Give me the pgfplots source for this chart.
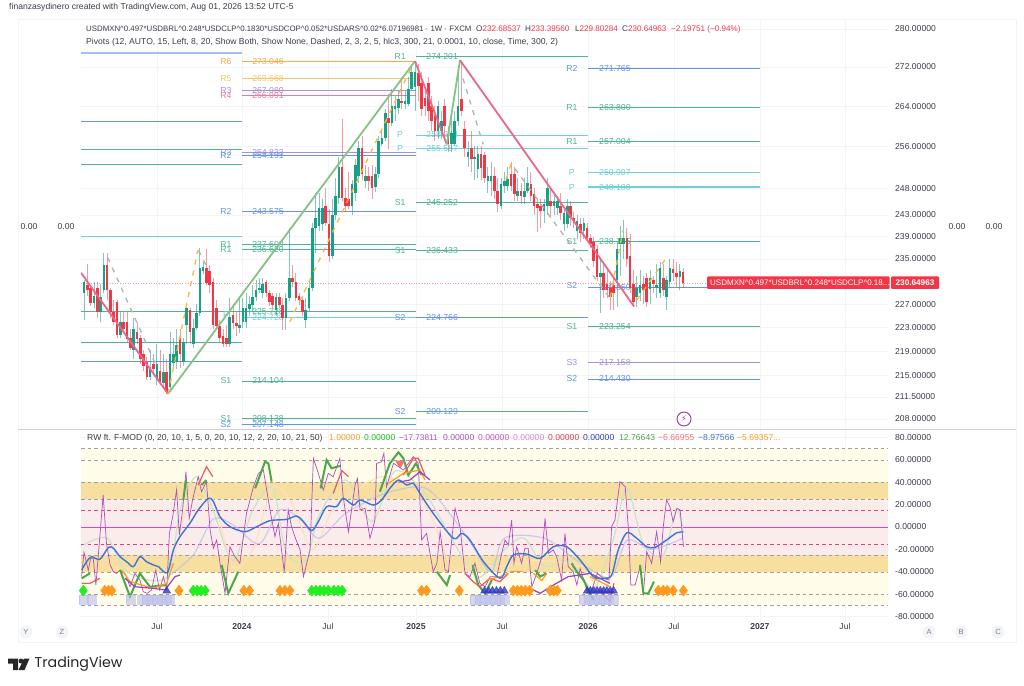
\documentclass[border=0pt]{standalone}
\usepackage{fontspec}
\usepackage{pgfplots}
\usepackage{pgfplotstable}
\pgfplotsset{compat=1.18}
\setmainfont{Liberation Sans}
\newfontfamily\tvfont{Poppins}
\newfontfamily\symfont{DejaVu Sans}

\definecolor{up}{HTML}{16A085}
\definecolor{dn}{HTML}{F23645}
\definecolor{ink}{HTML}{3A3E4A}
\definecolor{gridc}{HTML}{F2F4F8}
\definecolor{ppOr}{HTML}{FFA94D}
\definecolor{ppYe}{HTML}{FBC65F}
\definecolor{ppPu}{HTML}{A98FD6}
\definecolor{ppPk}{HTML}{EC7A9B}
\definecolor{ppBl}{HTML}{6394E8}
\definecolor{ppGr}{HTML}{4FB396}
\definecolor{ppCy}{HTML}{6FD0DC}
\definecolor{trG}{HTML}{86C283}
\definecolor{trR}{HTML}{E8688A}
\definecolor{osc}{HTML}{B04DBE}
\definecolor{mid}{HTML}{D14BC8}
\definecolor{blu}{HTML}{3F73D8}
\definecolor{grn}{HTML}{4CA64C}
\definecolor{bandA}{HTML}{FFFDE9}
\definecolor{bandB}{HTML}{F7DFA0}
\definecolor{bandC}{HTML}{F9ECEA}
\definecolor{dia}{HTML}{FF9A1F}
\definecolor{lim}{HTML}{22EE22}
\definecolor{tri}{HTML}{3038C8}
\definecolor{sq}{HTML}{B9BCEB}
\definecolor{dashY}{HTML}{FDB73E}

% week index, open, high, low, close
\pgfplotstableread{
x o h l c
1 228.9 231.2 224.3 230.8
2 230.3 234.1 228.5 229.4
3 229.8 230.3 226.7 227.2
4 227.2 230.8 226.3 228.5
5 229.8 230.8 224.6 225.7
6 225.7 230.6 224.0 228.2
7 229.4 236.0 228.9 233.8
8 233.8 236.0 227.7 229.4
9 229.4 229.8 224.6 225.7
10 225.7 227.7 223.5 224.0
11 227.3 227.7 221.3 221.8
12 221.8 225.7 221.3 224.0
13 224.0 225.7 222.2 222.7
14 224.0 225.7 220.5 221.0
15 221.3 222.7 219.3 219.6
16 219.3 224.6 217.7 222.7
17 222.2 224.0 220.2 221.0
18 221.3 221.8 216.9 217.7
19 218.5 219.3 215.7 216.5
20 217.2 218.0 214.3 214.8
21 214.8 219.3 214.3 216.3
22 216.9 218.5 215.2 216.0
23 214.3 220.2 213.5 216.9
24 215.7 219.3 213.5 214.0
25 213.8 218.5 213.0 215.5
26 215.5 217.7 212.0 212.3
27 213.2 222.2 212.3 218.5
28 217.0 221.3 216.0 218.5
29 217.2 222.7 216.0 220.0
30 221.3 222.7 216.3 218.5
31 217.2 221.3 216.5 220.5
32 223.5 226.8 220.2 226.3
33 226.0 226.3 220.2 222.2
34 220.2 224.5 219.5 223.0
35 223.0 227.0 222.5 225.5
36 225.4 237.0 225.0 233.4
37 232.9 234.5 232.3 233.6
38 233.4 236.7 230.3 230.7
39 232.9 233.8 228.9 230.3
40 230.8 231.5 222.7 223.5
41 226.3 227.7 222.7 223.2
42 223.2 224.3 220.6 221.3
43 221.6 222.7 219.8 220.2
44 221.3 223.5 219.8 220.2
45 220.2 228.0 219.8 224.8
46 225.1 227.0 222.7 223.8
47 223.8 225.7 221.5 223.2
48 222.9 228.0 222.0 223.4
49 224.0 228.0 223.0 226.3
50 224.0 229.0 223.0 226.3
51 226.2 228.5 225.0 227.0
52 226.8 230.3 225.8 228.2
53 228.2 231.2 227.5 229.4
54 229.4 231.5 228.9 229.9
55 228.9 231.5 228.0 230.5
56 230.8 231.2 228.3 228.9
57 228.9 229.5 226.7 227.3
58 228.5 229.0 226.3 226.8
59 226.0 229.0 225.0 228.2
60 228.2 229.0 226.3 226.8
61 226.8 228.0 222.5 224.6
62 224.6 229.0 222.5 228.0
63 228.0 240.6 227.5 231.6
64 231.6 233.8 230.0 230.8
65 230.8 232.5 227.5 228.0
66 228.5 229.0 226.8 227.7
67 227.8 228.5 225.0 225.7
68 224.3 228.0 223.0 226.0
69 226.3 231.0 225.8 229.8
70 229.8 241.5 229.3 240.6
71 240.6 247.0 236.0 242.5
72 241.0 247.0 240.0 244.2
73 241.3 246.0 240.0 244.2
74 244.6 248.0 241.0 241.5
75 241.3 244.0 234.5 235.5
76 235.5 246.0 235.0 243.0
77 243.0 250.0 242.0 246.5
78 246.2 254.0 245.0 252.1
79 252.1 261.5 245.5 246.2
80 246.2 248.0 243.5 244.6
81 246.0 251.0 244.0 244.7
82 244.6 249.5 243.0 248.7
83 247.0 253.5 245.5 252.5
84 250.3 257.0 249.0 255.6
85 255.6 258.0 249.5 250.6
86 249.3 252.5 248.0 250.3
87 250.3 252.0 247.5 249.3
88 250.3 252.5 246.0 248.0
89 248.3 252.0 247.2 250.6
90 250.6 258.0 250.0 257.0
91 256.4 259.0 256.0 257.6
92 257.6 263.5 257.0 262.6
93 261.6 266.5 255.5 260.6
94 260.6 267.5 260.0 264.0
95 263.4 266.0 261.0 264.0
96 263.6 267.0 262.5 265.4
97 265.0 270.0 263.5 264.6
98 264.4 267.0 263.5 265.0
99 264.4 270.0 264.0 267.5
100 267.5 272.0 267.0 271.0
101 267.8 273.0 263.0 271.0
102 270.8 272.5 265.0 268.0
103 268.6 271.0 262.0 263.4
104 265.6 267.0 262.0 264.0
105 268.6 270.0 261.0 263.0
106 264.0 266.0 259.0 261.0
107 262.0 264.0 257.0 259.0
108 259.0 265.0 257.5 264.0
109 259.0 263.0 257.5 261.0
110 264.0 265.5 258.0 260.0
111 258.4 260.0 255.0 256.4
112 256.4 262.0 255.0 258.6
113 256.4 263.0 256.0 261.0
114 261.0 272.0 260.0 264.0
115 265.4 273.0 262.0 263.0
116 259.4 261.0 254.0 255.6
117 254.0 257.0 252.0 255.0
118 255.6 259.0 251.0 253.6
119 253.6 256.0 249.5 254.0
120 251.6 256.0 250.0 254.6
121 254.6 256.0 249.5 251.8
122 254.3 255.0 249.0 250.0
123 249.3 252.0 247.0 250.3
124 249.3 253.0 246.5 250.3
125 250.3 252.0 246.0 247.4
126 247.4 250.0 243.5 245.0
127 244.6 250.0 244.0 248.7
128 248.4 251.0 247.0 249.3
129 248.4 252.0 247.5 249.7
130 250.6 253.0 247.5 248.4
131 250.6 252.0 245.5 246.9
132 246.5 250.0 245.5 247.4
133 247.4 249.0 245.0 246.5
134 246.3 250.0 245.0 247.4
135 247.4 252.0 247.0 249.0
136 248.7 251.0 245.5 246.5
137 246.9 248.0 243.0 244.6
138 245.0 246.0 239.8 244.2
139 244.6 246.0 240.5 243.7
140 243.7 246.0 241.5 245.0
141 244.6 250.0 243.0 248.0
142 245.6 248.0 242.5 244.6
143 244.6 247.0 243.0 245.6
144 244.2 246.5 243.0 245.6
145 244.6 247.0 242.0 243.3
146 241.3 244.5 240.0 243.3
147 241.3 246.0 240.5 244.6
148 244.6 245.5 241.0 242.4
149 242.4 243.5 240.5 241.5
150 240.1 243.0 238.5 241.9
151 241.3 242.5 238.0 239.6
152 240.1 242.5 238.5 241.5
153 240.5 241.5 238.0 238.8
154 238.8 239.5 237.0 237.7
155 238.0 239.0 233.5 234.6
156 236.8 237.5 231.0 231.7
157 231.7 235.0 225.5 232.5
158 232.5 234.5 228.0 229.4
159 230.6 233.0 228.0 229.4
160 229.8 231.0 226.0 228.3
161 230.3 232.0 226.0 228.9
162 231.2 238.0 226.5 236.8
163 237.7 241.0 232.0 238.8
164 237.7 242.0 235.0 238.8
165 238.8 240.5 233.5 235.0
166 235.5 239.5 229.0 229.8
167 230.6 233.0 226.5 227.3
168 228.2 232.0 226.5 229.9
169 228.9 233.0 227.5 230.3
170 230.5 232.0 227.0 229.4
171 231.5 232.5 226.5 227.3
172 229.6 233.0 227.0 231.5
173 231.2 232.0 229.0 230.6
174 229.9 234.0 228.0 230.3
175 228.9 234.5 228.0 233.4
176 231.5 234.0 228.5 229.4
177 228.2 232.0 226.0 231.2
178 230.8 235.0 230.0 233.4
179 233.2 235.0 231.0 232.5
180 232.5 234.5 230.0 231.7
181 231.7 234.0 229.5 232.9
182 232.69 233.39 229.80 230.65
}\candles

\newcommand{\pivf}{\fontsize{8.7}{10}\selectfont}
\newcommand{\lab}{\fontsize{8.6}{10}\selectfont}
\newcommand{\piv}[8]{%
  \addplot[color=#6,line width=#7pt] coordinates {(#1,#5)(#2,#5)};
  \ifx&#8&\else
  \node[text=#6,font=\pivf,inner sep=0] at (axis cs:#3,#5) {#8};
  \fi}
\newcommand{\nm}[4]{\node[text=#4,font=\pivf,inner sep=0] at (axis cs:#1,#2) {#3};}
\newcommand{\txt}[5]{\node[anchor=#3,inner sep=0,text=#4,font=\lab] at (#1pt,{(685-#2)*1pt}) {#5};}
\newcommand{\caret}{\textasciicircum}
\newcommand{\ohlc}[2]{\fontsize{8.1}{10}\selectfont\textcolor{ink}{#1}#2}

\begin{document}
\begin{tikzpicture}
\fill[white] (0,0) rectangle (1024pt,685pt);
\path[use as bounding box] (0,0) rectangle (1024pt,685pt);
\draw[color=gridc] (18pt,43pt) rectangle (1016pt,666pt);
\draw[color=gridc!70!gray] (18pt,256pt) -- (1016pt,256pt);

\begin{axis}[
  at={(81pt,257pt)},anchor=south west,scale only axis,
  width=807pt,height=408pt,
  xmin=0.1,xmax=243.9,
  ymode=log,ymin=206.58,ymax=281.93,
  axis line style={draw=none},
  major tick length=0pt,
  xtick={23.05,48.7,74.7,101.3,127.3,153.3,179.2,205.2,230.9},
  xticklabels={},
  ytick={208,211.5,215,219,223,227,235,239,243,248,256,264,272,280},
  yticklabels={208.00000,211.50000,215.00000,219.00000,223.00000,227.00000,235.00000,239.00000,243.00000,248.00000,256.00000,264.00000,272.00000,280.00000},
  yticklabel pos=right,
  yticklabel style={font=\lab,text=ink,xshift=7pt,inner sep=0pt},
  grid=major,grid style={color=gridc},
]
% left block
\piv{0.1}{48.7}{0}{0}{274.9}{ppBl!60}{1.8}{}
\piv{0.1}{48.7}{0}{0}{261}{ppBl}{0.8}{}
\piv{0.1}{48.7}{0}{0}{255.4}{ppGr}{0.8}{}
\piv{0.1}{48.7}{0}{0}{252.5}{ppGr}{0.8}{}
\piv{0.1}{48.7}{0}{0}{239}{ppCy}{1.6}{}
\piv{0.1}{48.7}{0}{0}{225.7}{ppGr}{0.8}{}
\piv{0.1}{48.7}{0}{0}{220.5}{ppGr}{0.8}{}
\piv{0.1}{48.7}{0}{0}{217.4}{ppBl}{0.8}{}
% second block
\piv{48.7}{101.3}{56.6}{0}{273.046}{ppOr}{0.9}{273.046}\nm{43.9}{273.046}{R6}{ppOr}
\piv{48.7}{101.3}{56.6}{0}{269.568}{ppYe}{0.9}{269.568}\nm{43.9}{269.568}{R5}{ppYe}
\piv{48.7}{101.3}{56.6}{0}{267.080}{ppPu}{1.2}{267.080}\nm{43.9}{267.080}{R3}{ppPu}
\piv{48.7}{101.3}{56.6}{0}{266.091}{ppPk}{1.2}{266.091}\nm{43.9}{266.091}{R4}{ppPk}
\piv{48.7}{101.3}{56.6}{0}{254.833}{ppPu}{0.9}{254.833}\nm{43.9}{254.833}{R3}{ppPu}
\piv{48.7}{101.3}{56.6}{0}{254.191}{ppBl}{0.9}{254.191}\nm{43.9}{254.191}{R2}{ppBl}
\piv{48.7}{101.3}{56.6}{0}{243.575}{ppBl}{1.0}{243.575}\nm{43.9}{243.575}{R2}{ppBl}
\piv{48.7}{101.3}{56.6}{0}{237.609}{ppGr}{0.9}{237.609}\nm{43.9}{237.609}{R1}{ppGr}
\piv{48.7}{101.3}{56.6}{0}{236.620}{ppGr}{0.9}{236.620}\nm{43.9}{236.620}{R1}{ppGr}
\piv{48.7}{101.3}{56.6}{0}{225.728}{ppGr}{0.9}{225.728}
\piv{48.7}{101.3}{56.6}{0}{224.728}{ppCy}{1.2}{224.728}\nm{43.9}{225.2}{P}{ppCy}
\piv{48.7}{101.3}{56.6}{0}{214.104}{ppGr}{0.9}{214.104}\nm{43.9}{214.104}{S1}{ppGr}
\piv{48.7}{101.3}{56.6}{0}{208.138}{ppGr}{1.1}{208.138}\nm{43.9}{208.138}{S1}{ppGr}
\piv{48.7}{101.3}{56.6}{0}{207.148}{ppBl}{0.9}{207.148}\nm{43.9}{207.148}{S2}{ppBl}
% third block
\piv{101.3}{153.3}{109.2}{0}{274.201}{ppGr}{0.9}{274.201}\nm{96.5}{274.201}{R1}{ppGr}
\piv{101.3}{153.3}{109.2}{0}{258.244}{ppCy}{0.9}{258.244}\nm{96.5}{258.244}{P}{ppCy}
\piv{101.3}{153.3}{109.2}{0}{255.587}{ppCy}{1.4}{255.587}\nm{96.5}{255.587}{P}{ppCy}
\piv{101.3}{153.3}{109.2}{0}{245.252}{ppGr}{0.9}{245.252}\nm{96.5}{245.252}{S1}{ppGr}
\piv{101.3}{153.3}{109.2}{0}{236.433}{ppGr}{1.4}{236.433}\nm{96.5}{236.433}{S1}{ppGr}
\piv{101.3}{153.3}{109.2}{0}{224.766}{ppBl}{1.1}{224.766}\nm{96.5}{224.766}{S2}{ppBl}
\piv{101.3}{153.3}{109.2}{0}{209.129}{ppBl}{0.9}{209.129}\nm{96.5}{209.129}{S2}{ppBl}
% fourth block
\piv{153.3}{205.2}{161.4}{0}{271.765}{ppBl}{0.9}{271.765}\nm{148.4}{271.765}{R2}{ppBl}
\piv{153.3}{205.2}{161.4}{0}{263.800}{ppGr}{0.9}{263.800}\nm{148.4}{263.800}{R1}{ppGr}
\piv{153.3}{205.2}{161.4}{0}{257.004}{ppGr}{0.9}{257.004}\nm{148.4}{257.004}{R1}{ppGr}
\piv{153.3}{205.2}{161.4}{0}{250.907}{ppCy}{0.9}{250.907}\nm{148.4}{250.907}{P}{ppCy}
\piv{153.3}{205.2}{161.4}{0}{248.180}{ppCy}{1.4}{248.180}\nm{148.4}{248.180}{P}{ppCy}
\piv{153.3}{205.2}{161.4}{0}{238.155}{ppGr}{0.9}{238.155}\nm{148.4}{238.155}{S1}{ppGr}
\piv{153.3}{205.2}{161.4}{0}{229.850}{ppBl}{0.9}{229.850}\nm{148.4}{230.3}{S2}{ppBl}
\piv{153.3}{205.2}{161.4}{0}{223.254}{ppGr}{0.9}{223.254}\nm{148.4}{223.254}{S1}{ppGr}
\piv{153.3}{205.2}{161.4}{0}{217.158}{ppPu}{0.9}{217.158}\nm{148.4}{217.158}{S3}{ppPu}
\piv{153.3}{205.2}{161.4}{0}{214.430}{ppBl}{0.9}{214.430}\nm{148.4}{214.430}{S2}{ppBl}

% close line
\addplot[color=dn!50,dotted,line width=.6pt] coordinates {(0.1,230.65)(243.9,230.65)};

% wicks
\addplot[draw=none,mark=none,restrict expr to domain={\thisrow{c}-\thisrow{o}}{0:1000},
  error bars/.cd,y dir=plus,y explicit,error mark=none,
  error bar style={color=up,opacity=.55,line width=.8pt}]
  table[x=x,y=l,y error expr=\thisrow{h}-\thisrow{l}] {\candles};
\addplot[draw=none,mark=none,restrict expr to domain={\thisrow{c}-\thisrow{o}}{-1000:-0.0001},
  error bars/.cd,y dir=plus,y explicit,error mark=none,
  error bar style={color=dn,opacity=.5,line width=.8pt}]
  table[x=x,y=l,y error expr=\thisrow{h}-\thisrow{l}] {\candles};
% bodies
\addplot[draw=none,mark=none,restrict expr to domain={\thisrow{c}-\thisrow{o}}{0:1000},
  error bars/.cd,y dir=plus,y explicit,error mark=none,
  error bar style={color=up,line width=2.6pt}]
  table[x=x,y=o,y error expr=\thisrow{c}-\thisrow{o}] {\candles};
\addplot[draw=none,mark=none,restrict expr to domain={\thisrow{c}-\thisrow{o}}{-1000:-0.0001},
  error bars/.cd,y dir=plus,y explicit,error mark=none,
  error bar style={color=dn,line width=2.6pt}]
  table[x=x,y=c,y error expr=\thisrow{o}-\thisrow{c}] {\candles};

% swing lines
\addplot[color=trR,line width=1.8pt] coordinates {(0.1,232.5)(26.4,212)};
\addplot[color=trG,line width=1.8pt] coordinates {(26.4,212)(101,273.2)};
\addplot[color=trR,line width=1.8pt] coordinates {(101,273.2)(110.6,256.4)};
\addplot[color=trG,line width=1.8pt] coordinates {(110.6,256.4)(114.6,273.4)};
\addplot[color=trR,line width=1.8pt] coordinates {(114.6,273.4)(167.2,226.6)};
\addplot[color=gray!60,line width=1.3pt,dash pattern=on 5pt off 6pt] coordinates {(8.2,235.2)(22.5,217)};
\addplot[color=gray!60,line width=1.3pt,dash pattern=on 5pt off 6pt] coordinates {(35.6,236.5)(38,233.7)};
\addplot[color=gray!60,line width=1.3pt,dash pattern=on 5pt off 6pt] coordinates {(115.5,269.6)(121.6,256.4)};
\addplot[color=gray!60,line width=1.3pt,dash pattern=on 5pt off 6pt] coordinates {(131.2,251.7)(159.9,228)};
\addplot[color=dashY,line width=1.3pt,dash pattern=on 5pt off 6pt] coordinates {(26.4,212)(35.4,236.5)};
\addplot[color=dashY,line width=1.3pt,dash pattern=on 5pt off 6pt] coordinates {(63.2,224)(100,272)};
\addplot[color=dashY,line width=1.3pt,dash pattern=on 5pt off 6pt] coordinates {(128.5,249.7)(130,252.6)};
\addplot[color=dashY,line width=1.3pt,dash pattern=on 5pt off 6pt] coordinates {(160,228.2)(163.8,240.1)};
\addplot[color=dashY,line width=1.3pt,dash pattern=on 5pt off 6pt] coordinates {(168,227.7)(177,235.2)};
\end{axis}

\begin{axis}[
  at={(81pt,63pt)},anchor=south west,scale only axis,
  width=807pt,height=192pt,
  xmin=0.1,xmax=243.9,
  ymin=-84.8,ymax=86.6,
  axis line style={draw=none},
  major tick length=0pt,
  xtick={23.05,48.7,74.7,101.3,127.3,153.3,179.2,205.2,230.9},
  xticklabels={Jul,\textbf{2024},Jul,\textbf{2025},Jul,\textbf{2026},Jul,\textbf{2027},Jul},
  xticklabel style={font=\lab,text=ink,inner sep=0pt,yshift=-1pt},
  ytick={-80,-60,-40,-20,0,20,40,60,80},
  yticklabels={-80.00000,-60.00000,-40.00000,-20.00000,0.00000,20.00000,40.00000,60.00000,80.00000},
  yticklabel pos=right,
  yticklabel style={font=\lab,text=ink,xshift=7pt,inner sep=0pt},
  grid=major,grid style={color=gridc},
]
\addplot[fill=bandA,draw=none] coordinates {(0.1,70)(243.9,70)(243.9,40)(0.1,40)} -- cycle;
\addplot[fill=bandB,draw=none] coordinates {(0.1,40)(243.9,40)(243.9,25)(0.1,25)} -- cycle;
\addplot[fill=bandC,draw=none] coordinates {(0.1,25)(243.9,25)(243.9,-25)(0.1,-25)} -- cycle;
\addplot[fill=bandB,draw=none] coordinates {(0.1,-25)(243.9,-25)(243.9,-40)(0.1,-40)} -- cycle;
\addplot[fill=bandA,draw=none] coordinates {(0.1,-40)(243.9,-40)(243.9,-70)(0.1,-70)} -- cycle;
\pgfplotsinvokeforeach{70,60,40,25,-25,-40,-60,-70}{
  \addplot[color=gray!75,line width=.6pt,dash pattern=on 3.5pt off 3pt] coordinates {(0.1,#1)(243.9,#1)};}
\pgfplotsinvokeforeach{15,-15}{
  \addplot[color=dn!55!mid,line width=.6pt,dash pattern=on 3.5pt off 3pt] coordinates {(0.1,#1)(243.9,#1)};}
\addplot[color=mid,line width=.8pt] coordinates {(0.1,0)(243.9,0)};

% faint averages
\addplot[smooth,color=grn!30,line width=1.2pt] coordinates {(1,-16)(8,-10)(14,-40)(26,-45)(30,15)(35,45)(40,15)(46,-30)(52,15)(58,35)(62,-22)(68,-30)(72,10)(80,42)(88,5)(95,50)(104,30)(112,-10)(120,-45)(128,-20)(134,-10)(140,-35)(148,-30)(155,-55)(161,-10)(165,35)(170,-15)(176,-25)(180,16)(182,-5)};
\addplot[smooth,color=dia!30,line width=1.2pt] coordinates {(28,-30)(34,35)(40,25)(46,-35)(52,-20)(58,35)(64,20)(70,-20)(76,15)(82,30)(92,45)(104,20)(112,-35)(118,-35)(128,-35)(138,-30)(150,-35)(158,-55)(163,-20)};
\addplot[smooth,color=sq,line width=1.2pt,opacity=.7] coordinates {(26,-45)(34,-25)(40,7)(46,2)(54,-15)(60,15)(66,8)(72,-10)(80,12)(92,30)(104,35)(112,10)(118,-15)(124,-40)(128,-10)(140,-10)(150,-30)(160,-45)(165,-12)(172,-20)(178,-15)(182,-10)};

% lavender blocks
\addplot[only marks,color=sq,opacity=.6,mark=square*,mark size=4.4pt,mark options={solid}] coordinates {
(0.8,-65)(3.3,-65)(15,-65)(18.5,-65)(20,-65)(21.5,-65)(23,-65)(24.5,-65)(26,-65)(27,-65)
(119,-65)(120.5,-65)(122,-65)(123.5,-65)(125,-65)(126.5,-65)(128,-65)
(152,-65)(153.5,-65)(155,-65)(156.5,-65)(158,-65)(159.5,-65)(161,-65)};
% diamonds
\addplot[only marks,color=dia,mark=diamond*,mark size=5.5pt,mark options={solid}] coordinates {
(7.3,-56.8)(8.4,-56.8)(9.4,-56.8)(29.7,-56.8)(49.3,-56.8)(51,-56.8)(60.2,-56.8)(61.7,-56.8)(63.2,-56.8)
(103,-56.8)(104.5,-56.8)(114.4,-56.8)(130.7,-56.8)(131.9,-56.8)(133.1,-56.8)(134.3,-56.8)(135.6,-56.8)
(141.8,-56.8)(143,-56.8)(144,-56.8)(174.5,-56.8)(176,-56.8)(177.2,-56.8)(179,-56.8)(182.1,-56.8)};
\addplot[only marks,color=lim,mark=diamond*,mark size=5.5pt,mark options={solid}] coordinates {
(0.8,-56.8)(34,-56.8)(35.2,-56.8)(36.4,-56.8)(37.6,-56.8)(69.8,-56.8)(71.1,-56.8)(72.3,-56.8)(73.5,-56.8)(74.8,-56.8)(76.5,-56.8)(77.8,-56.8)(79,-56.8)};
\addplot[only marks,color=tri,opacity=.8,mark=triangle*,mark size=4.5pt,mark options={solid}] coordinates {
(26,-57)(122,-57)(123.2,-57)(124.4,-57)(125.6,-57)(126.8,-57)(128,-57)
(153,-57)(154,-57)(155,-57)(156,-57)(157,-57)(158,-57)(159,-57)(160,-57)(161,-57)};
\addplot[only marks,color=dn!70,mark=triangle*,mark size=5pt,mark options={solid,rotate=180}] coordinates {(96.5,56.8)};

% oscillator
\addplot[color=osc,line width=.7pt] coordinates {
(.3,-44.3)(1,-22.6)(1.6,-29.5)(2.3,-38.7)(3,-28)(3.8,-28)(4.6,-51.8)(5.3,-26.5)(6.8,28.6)(7.8,-14.6)(8.9,-33.9)(9.9,-39.9)(10.9,-41.4)(11.9,-38.4)(13.4,-41.4)(14.9,-53.3)(16.4,-41.4)(17.9,-47.3)(18.9,-57.7)(20.1,-59.2)(21.4,-56.2)(22.7,-38.4)(23.8,-56.2)(25,-44.3)(26,-56.2)(26.8,-5.7)(27.8,9.2)(29,33.6)(29.8,-7.1)(30.8,15.2)(31.8,49.4)(32.8,7.7)(33.8,24.1)(35.5,44.9)(36.5,31.5)(38,40.5)(39.1,-2.7)(40.1,-19)(41.1,-11.6)(42.1,-32.4)(43.6,-59.2)(45.1,-17.6)(46.6,-26.5)(48.1,-32.4)(50.1,12.2)(52.2,36)(53.7,47.9)(55.2,50.9)(57.2,15.2)(58.7,-8.6)(59.7,3.3)(61.5,-39.9)(62.7,15.2)(63.7,.3)(64.7,-8.6)(66.3,-20.5)(67.3,-44.3)(69.3,-20.5)(70.3,61.3)(71.8,47.9)(73.3,33)(74.8,47.9)(76.3,44.9)(78.3,61.3)(79.3,27.1)(80.9,-4.2)(82.9,37.5)(83.6,43.4)(84.4,15.2)(85.9,16.7)(87.4,-10.1)(88.9,6.2)(89.4,56.8)(90.9,58.3)(91.6,65.8)(92.4,36)(94.5,56.8)(97.5,50.9)(100.5,62.8)(102,56.8)(103,-11.6)(104.5,-5.7)(106.5,-39.9)(107.6,-32.4)(108.6,-4.2)(110.1,-38.4)(111.1,-39.9)(113.1,16.7)(114.6,.3)(116.1,-41.4)(117.6,-44.3)(119.1,-32.4)(120.6,-50.3)(122.2,-53.3)(123.7,-44.3)(125.7,-44.3)(127.2,-23.5)(128.2,-11.6)(129.2,-16.1)(130.2,6.2)(130.9,-32.4)(131.7,-17.6)(133.2,-32.4)(134.2,-19)(135.2,-19)(136.3,-53.3)(137.8,-41.4)(139.3,-26.5)(140.3,7.7)(141.3,-23.5)(142.8,-20.5)(143.8,-26.5)(145.3,-47.3)(146.3,-5.7)(147.3,-35.4)(148.8,-39.9)(149.9,-51.8)(150.9,-36.9)(152.9,-56.2)(154.4,-56.2)(156.1,-41.4)(157.9,-45.8)(159.6,-47.3)(160.4,.3)(161.4,6.2)(162.9,40.5)(164.5,36)(165.5,-2.7)(166.2,-51.8)(167.5,-51.8)(169,-35.4)(170,-59.2)(171,-22)(172.5,-32.4)(174,-4.2)(175.2,-31)(176,.3)(177,24.1)(178,18.2)(179,4.8)(180.1,16.7)(181.1,15.2)(182.1,-17.6)};

% thick segments
\foreach \seg in {
 {(.3,-45.8)(2.8,-41.4)},
 {(11.9,-38.4)(14.9,-62.2)(17.9,-41.4)(20.9,-53.3)(26,-51.8)},
 {(31,24.1)(31.8,42)},{(36.5,37.5)(38,42)},
 {(42.6,-33.9)(44.6,-59.2)(47.6,-39.9)},
 {(52.7,34.5)(55.7,58.3)(56.7,56.8)(57.7,40.5)},
 {(72.5,34.5)(74.3,59.8)(75.8,52.4)(78.3,54.5)},
 {(90.4,31.5)(93.4,56.8)(96,66.7)(97.5,61.3)(99,46.4)(101.3,56.8)(103,46.4)},
 {(107.6,-39.9)(110.6,-51.8)(111.6,-42.9)},
 {(118.4,-33.9)(120.1,-51.8)(122.2,-59.2)(124.2,-47.3)},
 {(137.3,-38.4)(138.8,-44.3)(140.8,-41.4)},
 {(148.3,-32.4)(149.9,-39.9)(151.9,-47.3)(154.9,-65.2)},
 {(169,-33.9)(170,-59.2)(171.5,-59.2)(173.2,-48.8)}}{
  \edef\tmp{\noexpand\addplot[color=grn,line width=2pt] coordinates {\seg};}\tmp}
\foreach \seg in {
 {(.3,-50.3)(2.8,-50.3)(5.8,-45.8)},
 {(35.5,37.5)(38,53.9)(39.9,44.9)},
 {(76.3,30)(78.9,50.3)(80.9,44.9)},
 {(97.5,46.4)(100.5,61.3)(102,61.3)(104,46.4)},
 {(116.1,-41.4)(118.6,-48.8)(120.6,-53.3)(123.7,-45.8)(126.7,-48.8)(129.2,-41.4)},
 {(156.9,-56.2)(159.9,-66.7)(161.1,-50.3)}}{
  \edef\tmp{\noexpand\addplot[color=dn!85,line width=1.2pt] coordinates {\seg};}\tmp}
\foreach \seg in {
 {(12.4,-38.4)(14.9,-48.8)(18.4,-51.8)(22,-54.8)(26,-50.3)(28,-32.4)},
 {(93,39)(97.5,47.9)(102.5,50.9)(104,42)},
 {(122.7,-47.3)(126.7,-44.3)(129.2,-41.4)},
 {(129.7,-39.9)(133.7,-39.9)},
 {(136.8,-41.4)(139.3,-47.9)(140.8,-41.4)},
 {(153.9,-44.3)(159.9,-53.3)}}{
  \edef\tmp{\noexpand\addplot[color=dia,line width=1.2pt] coordinates {\seg};}\tmp}
\foreach \seg in {
 {(13.4,-45.8)(16.4,-53.3)(22,-54.8)(25.5,-56.2)(28.5,-44.3)(30,-42.9)},
 {(96,40)(99.5,42)(102.5,49.4)(105.5,42)},
 {(135.8,-54.8)(138.8,-59.2)(142.8,-51.8)(147.3,-44.3)(153.9,-41.4)(159.9,-50.3)}}{
  \edef\tmp{\noexpand\addplot[color=osc!85!blue,line width=1.2pt] coordinates {\seg};}\tmp}

% main average
\addplot[smooth,color=blu,line width=1.4pt] coordinates {
(.3,-38.4)(1.8,-31)(3.3,-26.5)(5.8,-28.9)(8.4,-18.2)(9.9,-19)(11.9,-26.5)(13.9,-31)(15.9,-35.4)(17.9,-26.5)(19.9,-31)(22,-33.9)(23.5,-35.4)(26.2,-40.8)(28,-20.5)(30,-8.6)(33,3.3)(35.5,15.2)(38.6,25.6)(40.1,22.6)(42.1,9.2)(45.1,.3)(49.6,-4.2)(53.2,.3)(57.2,5.7)(62.2,6.8)(65.2,9.8)(67.3,4.8)(69.8,-3.3)(71.8,4.8)(74.3,18.2)(77.3,18.2)(79.3,25.6)(82.4,19.6)(84.4,24.1)(88.4,19.6)(90.9,24.1)(93.4,34.5)(96,42)(98.5,37.5)(100.5,39)(102.5,30)(106.5,12.2)(112.6,-10.1)(115.1,-5.7)(117.6,-11.6)(121.7,-31)(126.7,-45.8)(128.7,-35.4)(130.7,-25)(134.7,-24.1)(138.8,-28)(142.8,-17.6)(146.8,-17.6)(150.9,-29.5)(154.9,-44.3)(157.9,-45.8)(160.4,-42.9)(162.4,-20.5)(165,-5.1)(168,-10.1)(171,-17.6)(173.5,-18.2)(177,-11.6)(180.1,-5.1)(182.1,-4.5)};
\end{axis}

% header
\txt{9}{7}{west}{ink}{finanzasydinero created with TradingView.com, Aug 01, 2026 13:52 UTC-5}
\txt{86}{29}{west}{ink}{\fontsize{7.85}{10}\selectfont USDMXN\caret0.497*USDBRL\caret0.248*USDCLP\caret0.1830*USDCOP\caret0.052*USDARS\caret0.02*6.07196981 · 1W · FXCM}
\txt{476}{29}{west}{dn}{\ohlc{O}{232.68537}}
\txt{525}{29}{west}{dn}{\ohlc{H}{233.39560}}
\txt{575}{29}{west}{dn}{\ohlc{L}{229.80284}}
\txt{622}{29}{west}{dn}{\ohlc{C}{230.64963}}
\txt{671}{29}{west}{dn}{\fontsize{8.1}{10}\selectfont −2.19751 (−0.94\%)}
\txt{86}{42}{west}{ink}{Pivots (12, AUTO, 15, Left, 8, 20, Show Both, Show None, Dashed, 2, 3, 2, 5, hlc3, 300, 21, 0.0001, 10, close, Time, 300, 2)}
% scales
\txt{29}{227}{center}{ink}{0.00}
\txt{66}{227}{center}{ink}{0.00}
\txt{957}{227}{center}{ink}{0.00}
\txt{994}{227}{center}{ink}{0.00}
% price tag
\fill[color=dn,rounded corners=1pt] (707pt,{(685-289)*1pt}) rectangle (889.5pt,{(685-276.5)*1pt});
\fill[color=dn,rounded corners=1pt] (891pt,{(685-289)*1pt}) rectangle (939pt,{(685-276.5)*1pt});
\txt{710}{283}{west}{white}{\fontsize{8}{10}\selectfont USDMXN\caret0.497*USDBRL\caret0.248*USDCLP\caret0.18...}
\txt{915}{283}{center}{white}{\fontsize{8.2}{10}\selectfont\bfseries 230.64963}
% lightning
\draw[color=osc!80!black,line width=.9pt] (684pt,{(685-419)*1pt}) circle (7pt);
\node[text=osc!80!black,font=\symfont\fontsize{8}{9}\selectfont,inner sep=0] at (684pt,{(685-419)*1pt}) {⚡};
% indicator legend
\txt{87}{438}{west}{ink}{RW ft. F-MOD (0, 20, 10, 1, 5, 0, 20, 10, 12, 2, 20, 10, 21, 50)}
\txt{329}{438}{west}{dia}{1.00000}
\txt{364}{438}{west}{lim!80!black}{0.00000}
\txt{399}{438}{west}{osc}{\fontsize{8.2}{10}\selectfont −17.73811}
\txt{443}{438}{west}{osc}{0.00000}
\txt{478}{438}{west}{mid}{0.00000}
\txt{513}{438}{west}{mid!70}{0.00000}
\txt{548}{438}{west}{dn}{0.00000}
\txt{583}{438}{west}{tri}{0.00000}
\txt{619}{438}{west}{grn}{12.76643}
\txt{658}{438}{west}{dn!70}{−6.66955}
\txt{698}{438}{west}{blu}{−8.97566}
\txt{737}{438}{west}{dia}{−5.69357...}
% corner buttons
\foreach \xx/\ll in {26/Y,62/Z,929/A,961/B,998/C}{
  \fill[color=gridc] (\xx pt,{(685-632)*1pt}) circle (6.5pt);
  \node[text=gray,font=\fontsize{7.5}{9}\selectfont,inner sep=0] at (\xx pt,{(685-632)*1pt}) {\ll};}
% logo
\fill[color=black!85] (8pt,{(685-658.5)*1pt}) -- (18pt,{(685-658.5)*1pt}) -- (18pt,{(685-670)*1pt}) -- (13pt,{(685-670)*1pt}) -- (13pt,{(685-663.5)*1pt}) -- (8pt,{(685-663.5)*1pt}) -- cycle;
\fill[color=black!85] (21pt,{(685-661)*1pt}) circle (2.4pt);
\fill[color=black!85] (24pt,{(685-658.5)*1pt}) -- (29.5pt,{(685-658.5)*1pt}) -- (24.5pt,{(685-670)*1pt}) -- (18.5pt,{(685-670)*1pt}) -- cycle;
\node[anchor=west,inner sep=0,text=black!85,font=\tvfont\fontsize{14.2}{17}\selectfont] at (34.5pt,{(685-664)*1pt}) {TradingView};
\end{tikzpicture}
\end{document}
